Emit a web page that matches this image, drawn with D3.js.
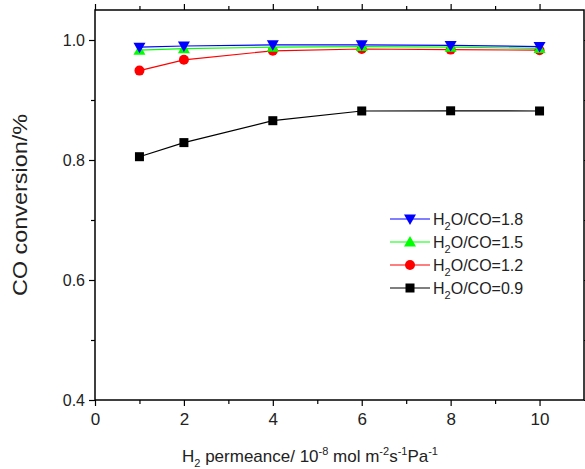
<!DOCTYPE html>
<style>
  body { margin: 0; background: #fff; }
  svg { font-family: "Liberation Sans", Arial, sans-serif; }
</style>
<svg width="585" height="469"></svg>
<script src="https://d3js.org/d3.v7.min.js"></script>
<script>
var permeance = [1, 2, 4, 6, 8, 10];
var ratios = ["1.8", "1.5", "1.2", "0.9"];
var conv18 = [0.988, 0.990, 0.992, 0.992, 0.991, 0.989];
var conv15 = [0.983, 0.9855, 0.988, 0.989, 0.988, 0.986];
var conv12 = [0.949, 0.967, 0.982, 0.985, 0.984, 0.983];
var conv09 = [0.8055, 0.829, 0.8655, 0.8817, 0.882, 0.8817];

var series = [
  {ratio: ratios[0], values: conv18, color: "#0000ff", symbol: "down"},
  {ratio: ratios[1], values: conv15, color: "#00ff00", symbol: "up"},
  {ratio: ratios[2], values: conv12, color: "#ff0000", symbol: "circle"},
  {ratio: ratios[3], values: conv09, color: "#000000", symbol: "square"}
];

var svg = d3.select("svg");
var pl = 95, pr = 584, pt = 10, pb = 400;

var x = d3.scaleLinear().domain([0, 11]).range([pl, pr]);
var y = d3.scaleLinear().domain([0.4, 1.05]).range([pb, pt]);

function addAxis(axis, tr) {
  return svg.append("g").attr("transform", tr).call(axis);
}
// major + minor ticks on all four sides
var xAx = addAxis(d3.axisBottom(x).tickValues([0, 2, 4, 6, 8, 10]).tickSize(6).tickPadding(7).tickFormat(d3.format("d")), "translate(0," + pb + ")");
addAxis(d3.axisBottom(x).tickValues([1, 3, 5, 7, 9]).tickSize(4).tickFormat(""), "translate(0," + pb + ")");
addAxis(d3.axisTop(x).tickValues([0, 2, 4, 6, 8, 10]).tickSize(6).tickFormat(""), "translate(0," + pt + ")");
addAxis(d3.axisTop(x).tickValues([1, 3, 5, 7, 9]).tickSize(4).tickFormat(""), "translate(0," + pt + ")");
var yAx = addAxis(d3.axisLeft(y).tickValues([0.4, 0.6, 0.8, 1.0]).tickSize(6).tickPadding(4).tickFormat(d3.format(".1f")), "translate(" + pl + ",0)");
addAxis(d3.axisLeft(y).tickValues([0.5, 0.7, 0.9]).tickSize(4).tickFormat(""), "translate(" + pl + ",0)");
addAxis(d3.axisRight(y).tickValues([0.4, 0.6, 0.8, 1.0]).tickSize(6).tickFormat(""), "translate(" + pr + ",0)");
addAxis(d3.axisRight(y).tickValues([0.5, 0.7, 0.9]).tickSize(4).tickFormat(""), "translate(" + pr + ",0)");

svg.selectAll(".domain").remove();
svg.selectAll(".tick line").attr("stroke", "#000").attr("stroke-width", 1.2);
svg.selectAll(".tick text").attr("fill", "#222")
  .style("font-family", "'Liberation Sans', Arial, sans-serif");
xAx.selectAll(".tick text").attr("font-size", 17);
yAx.selectAll(".tick text").attr("font-size", 16);

svg.append("rect")
  .attr("x", pl).attr("y", pt)
  .attr("width", pr - pl).attr("height", pb - pt)
  .attr("fill", "none").attr("stroke", "#000").attr("stroke-width", 1.5);

function marker(g, sym, color) {
  if (sym == "square") {
    g.append("rect").attr("x", -4.5).attr("y", -4.5).attr("width", 9).attr("height", 9).attr("fill", color);
  } else if (sym == "circle") {
    g.append("circle").attr("r", 5).attr("fill", color);
  } else if (sym == "up") {
    g.append("path").attr("d", "M0,-6L6,4.5L-6,4.5Z").attr("fill", color);
  } else {
    g.append("path").attr("d", "M0,6L6,-4.5L-6,-4.5Z").attr("fill", color);
  }
}

var line = d3.line().x(function(d, i) { return x(permeance[i]); }).y(function(d) { return y(d); });

// draw bottom series first so blue sits on top
series.slice().reverse().forEach(function(s) {
  svg.append("path").attr("d", line(s.values))
    .attr("fill", "none").attr("stroke", s.color).attr("stroke-width", 1.2);
  s.values.forEach(function(v, i) {
    var g = svg.append("g").attr("transform", "translate(" + x(permeance[i]) + "," + y(v) + ")");
    marker(g, s.symbol, s.color);
  });
});

// legend
var legend = svg.selectAll(".legend")
  .data(series).enter()
  .append("g")
  .attr("class", "legend")
  .attr("transform", function(d, i) { return "translate(390," + (219 + 23 * i) + ")"; });

legend.append("line").attr("x1", 0).attr("x2", 40).attr("stroke", function(d) { return d.color; }).attr("stroke-width", 1.2);
legend.each(function(d) {
  var g = d3.select(this).append("g").attr("transform", "translate(20,0)");
  marker(g, d.symbol, d.color);
});
var lt = legend.append("text").attr("x", 43).attr("dy", "0.36em").attr("font-size", 16).attr("fill", "#222");
lt.append("tspan").text("H");
lt.append("tspan").attr("font-size", 11).attr("dy", 5).text("2");
lt.append("tspan").attr("dy", -5).text(function(d) { return "O/CO=" + d.ratio; });

// axis titles
svg.append("text")
  .attr("transform", "translate(27," + 205 + ") rotate(-90)")
  .attr("text-anchor", "middle")
  .attr("font-size", 20).attr("fill", "#222")
  .attr("textLength", 182).attr("lengthAdjust", "spacingAndGlyphs")
  .text("CO conversion/%");

var xt = svg.append("text")
  .attr("x", 310).attr("y", 462)
  .attr("text-anchor", "middle")
  .attr("font-size", 17).attr("fill", "#222");
xt.append("tspan").text("H");
xt.append("tspan").attr("font-size", 11).attr("dy", 5).text("2");
xt.append("tspan").attr("dy", -5).text(" permeance/ 10");
xt.append("tspan").attr("font-size", 11).attr("dy", -7).text("-8");
xt.append("tspan").attr("dy", 7).text(" mol m");
xt.append("tspan").attr("font-size", 11).attr("dy", -7).text("-2");
xt.append("tspan").attr("dy", 7).text("s");
xt.append("tspan").attr("font-size", 11).attr("dy", -7).text("-1");
xt.append("tspan").attr("dy", 7).text("Pa");
xt.append("tspan").attr("font-size", 11).attr("dy", -7).text("-1");
</script>
